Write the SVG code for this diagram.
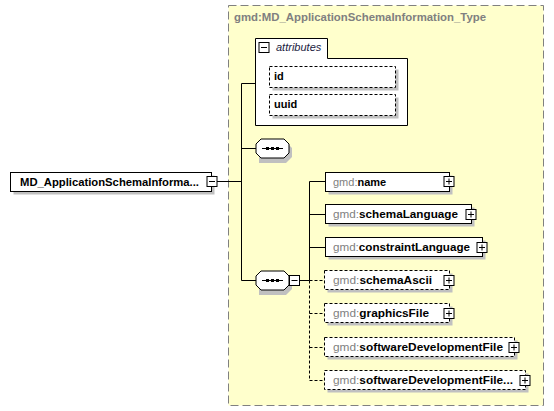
<svg xmlns="http://www.w3.org/2000/svg" width="554" height="411" viewBox="0 0 554 411">
<defs>
<style>
.bg{fill:#ffffff}
.type{fill:#ffffcc;stroke:#808080;stroke-width:1;stroke-dasharray:8,4}
.sh{fill:#c0c0c0}
.box{fill:#ffffff;stroke:#000000;stroke-width:1}
.dbox{fill:#ffffff;stroke:#000000;stroke-width:1;stroke-dasharray:3,2}
.ln{stroke:#000000;stroke-width:1;fill:none}
.dl{stroke:#000000;stroke-width:1;fill:none;stroke-dasharray:3,2}
.t{font-family:"Liberation Sans",Arial,sans-serif;font-size:11px;font-weight:bold;fill:#000000}
.p{fill:#808080;font-weight:normal}
.title{font-family:"Liberation Sans",Arial,sans-serif;font-size:11px;font-weight:bold;fill:#808080}
.it{font-family:"Liberation Sans",Arial,sans-serif;font-size:11px;font-style:italic;fill:#1a1a40}
</style>
<g id="plus">
<rect x="-5" y="-5" width="10" height="10" fill="#ffffff" stroke="#000000"/>
<path d="M-3,0 H3 M0,-3 V3" stroke="#000000"/>
</g>
<g id="minus">
<rect x="-5" y="-5" width="10" height="10" fill="#ffffff" stroke="#000000"/>
<path d="M-3,0 H3" stroke="#000000"/>
</g>
<g id="seq">
<path d="M3,3 H30 L36,9 V18 L30,24 H3 Z" class="sh"/>
<path d="M5,0 H28 L33,5 V14 L28,19 H5 L0,14 V5 Z" fill="#ffffff" stroke="#000000"/>
<path d="M6,9.5 H27" stroke="#000000"/>
<rect x="10" y="8" width="3" height="3" fill="#000000"/>
<rect x="15" y="8" width="3" height="3" fill="#000000"/>
<rect x="20" y="8" width="3" height="3" fill="#000000"/>
</g>
</defs>
<rect x="0" y="0" width="554" height="411" class="bg"/>

<g id="type">
<rect x="228.5" y="5.5" width="315" height="400" class="type"/>
<text x="234" y="21" class="title" textLength="252" lengthAdjust="spacingAndGlyphs">gmd:MD_ApplicationSchemaInformation_Type</text>
</g>

<g id="connectors">
<path d="M217,181.5 H241.5 M241.5,83.5 V280.5 M241.5,83.5 H255.5 M241.5,148.5 H256 M241.5,280.5 H256" class="ln"/>
<path d="M299,280.5 H309.5 M309.5,181.5 V280.5 M309.5,181.5 H325 M309.5,214.5 H325 M309.5,247.5 H325" class="ln"/>
<path d="M309.5,280.5 V380.5 M309.5,280.5 H325 M309.5,313.5 H325 M309.5,347.5 H325 M309.5,380.5 H325" class="dl"/>
</g>

<g id="root">
<rect x="13.5" y="175.5" width="201" height="19" class="sh"/>
<rect x="10.5" y="172.5" width="201" height="19" class="box"/>
<text x="20" y="186" class="t" textLength="179" lengthAdjust="spacingAndGlyphs">MD_ApplicationSchemaInforma...</text>
<use href="#minus" x="212" y="181.5"/>
</g>

<g id="attributes">
<path d="M255.5,38.5 H327.5 V58.5 H407.5 V125.5 H255.5 Z" class="box"/>
<use href="#minus" x="264" y="47.5"/>
<text x="276" y="51" class="it">attributes</text>
<g id="attr-id">
<rect x="272.5" y="69.5" width="126" height="21" class="sh"/>
<rect x="269.5" y="66.5" width="126" height="21" class="dbox"/>
<text x="274" y="80" class="t">id</text>
</g>
<g id="attr-uuid">
<rect x="272.5" y="97.5" width="126" height="21" class="sh"/>
<rect x="269.5" y="94.5" width="126" height="21" class="dbox"/>
<text x="274" y="108" class="t">uuid</text>
</g>
</g>

<g id="seq1"><use href="#seq" x="256" y="139"/></g>
<g id="seq2"><use href="#seq" x="256" y="271"/><use href="#minus" x="294.5" y="280.5"/></g>

<g id="el-name">
<rect x="328.5" y="175.5" width="124" height="19" class="sh"/>
<rect x="325.5" y="172.5" width="124" height="19" class="box"/>
<text x="333" y="186" class="t"><tspan class="p">gmd:</tspan>name</text>
<use href="#plus" x="449" y="181.5"/>
</g>
<g id="el-schemaLanguage">
<rect x="328.5" y="207.5" width="146" height="19" class="sh"/>
<rect x="325.5" y="204.5" width="146" height="19" class="box"/>
<text x="333" y="218" class="t" textLength="125" lengthAdjust="spacingAndGlyphs"><tspan class="p">gmd:</tspan>schemaLanguage</text>
<use href="#plus" x="471" y="214.5"/>
</g>
<g id="el-constraintLanguage">
<rect x="328.5" y="240.5" width="157" height="19" class="sh"/>
<rect x="325.5" y="237.5" width="157" height="19" class="box"/>
<text x="333" y="251" class="t" textLength="137" lengthAdjust="spacingAndGlyphs"><tspan class="p">gmd:</tspan>constraintLanguage</text>
<use href="#plus" x="482" y="247.5"/>
</g>
<g id="el-schemaAscii">
<rect x="327.5" y="273.5" width="125" height="19" class="sh"/>
<rect x="324.5" y="270.5" width="125" height="19" class="dbox"/>
<text x="333" y="284" class="t" textLength="99" lengthAdjust="spacingAndGlyphs"><tspan class="p">gmd:</tspan>schemaAscii</text>
<use href="#plus" x="449" y="280.5"/>
</g>
<g id="el-graphicsFile">
<rect x="327.5" y="306.5" width="125" height="19" class="sh"/>
<rect x="324.5" y="303.5" width="125" height="19" class="dbox"/>
<text x="333" y="317" class="t" textLength="96" lengthAdjust="spacingAndGlyphs"><tspan class="p">gmd:</tspan>graphicsFile</text>
<use href="#plus" x="449" y="313.5"/>
</g>
<g id="el-softwareDevelopmentFile">
<rect x="327.5" y="340.5" width="190" height="19" class="sh"/>
<rect x="324.5" y="337.5" width="190" height="19" class="dbox"/>
<text x="333" y="351" class="t" textLength="170" lengthAdjust="spacingAndGlyphs"><tspan class="p">gmd:</tspan>softwareDevelopmentFile</text>
<use href="#plus" x="514" y="347.5"/>
</g>
<g id="el-softwareDevelopmentFileFormat">
<rect x="327.5" y="373.5" width="201" height="19" class="sh"/>
<rect x="324.5" y="370.5" width="201" height="19" class="dbox"/>
<text x="333" y="384" class="t" textLength="180" lengthAdjust="spacingAndGlyphs"><tspan class="p">gmd:</tspan>softwareDevelopmentFile...</text>
<use href="#plus" x="525" y="380.5"/>
</g>
</svg>
